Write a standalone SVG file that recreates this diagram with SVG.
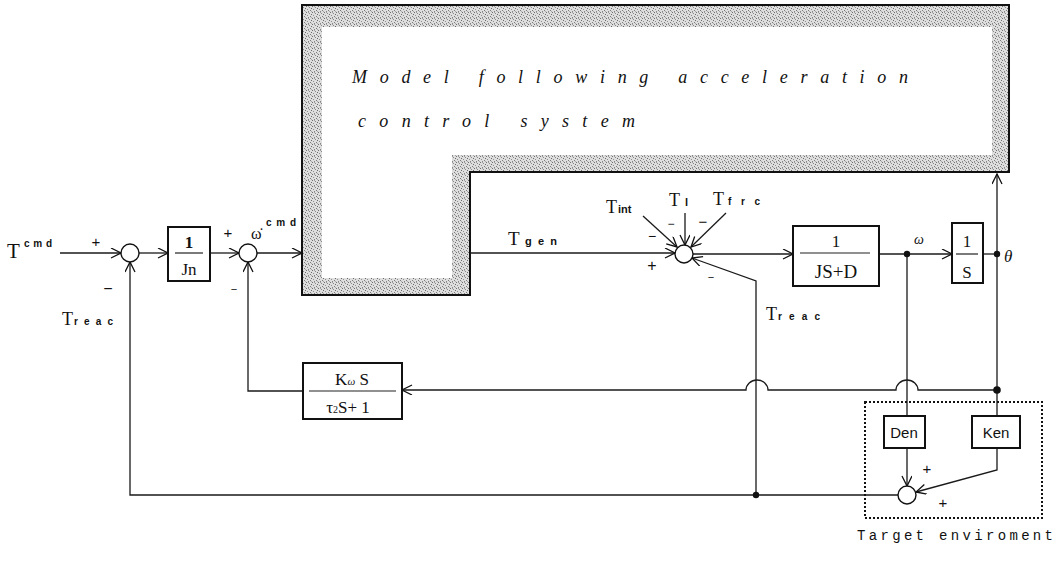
<svg xmlns="http://www.w3.org/2000/svg" width="1061" height="561" viewBox="0 0 1061 561">
<style>
.ln{fill:none;stroke:#1a1a1a;stroke-width:1.3}
.bx{fill:#fff;stroke:#111;stroke-width:2}
.sj{fill:#fff;stroke:#111;stroke-width:1.4}
.fr{stroke:#222;stroke-width:1.2}
.serif{font-family:"Liberation Serif","DejaVu Serif",serif;fill:#111}
.sans{font-family:"Liberation Sans","DejaVu Sans",sans-serif;fill:#111}
.mono{font-family:"Liberation Mono","DejaVu Sans Mono",monospace;fill:#111}
.dot{fill:#111}
</style>
<defs>
<marker id="ar" markerUnits="userSpaceOnUse" markerWidth="14" markerHeight="12" refX="11" refY="5" orient="auto">
<path d="M1,0 L11,5 L1,10" fill="none" stroke="#111" stroke-width="1.3"/>
</marker>
<pattern id="stip" width="6" height="6" patternUnits="userSpaceOnUse">
<rect width="6" height="6" fill="#dedede"/>
<rect x="0" y="0" width="1" height="1" fill="#707070"/>
<rect x="3" y="1" width="1" height="1" fill="#8a8a8a"/>
<rect x="5" y="2" width="1" height="1" fill="#6a6a6a"/>
<rect x="1" y="3" width="1" height="1" fill="#909090"/>
<rect x="4" y="4" width="1" height="1" fill="#7c7c7c"/>
<rect x="2" y="5" width="1" height="1" fill="#858585"/>
<rect x="5" y="5" width="1" height="1" fill="#a8a8a8"/>
<rect x="2" y="0" width="1" height="1" fill="#a0a0a0"/>
</pattern>
</defs>

<g id="mfac">
<path d="M302,5 H1009 V172 H470 V295 H302 Z" fill="url(#stip)" stroke="#111" stroke-width="2"/>
<path d="M322,27 H992 V155 H452 V278 H322 Z" fill="#fff"/>
<text class="serif" x="352" y="83" font-size="18" font-style="italic" textLength="556" lengthAdjust="spacing">Model following acceleration</text>
<text class="serif" x="358" y="127" font-size="18" font-style="italic" textLength="277" lengthAdjust="spacing">control system</text>
</g>

<g id="connectors">
<path class="ln" d="M60,253 H121" marker-end="url(#ar)"/>
<path class="ln" d="M139,253 H168" marker-end="url(#ar)"/>
<path class="ln" d="M210,253 H239" marker-end="url(#ar)"/>
<path class="ln" d="M257,253 H302" marker-end="url(#ar)"/>
<path class="ln" d="M898,495 H130 V262" marker-end="url(#ar)"/>
<path class="ln" d="M303,391 H248 V262" marker-end="url(#ar)"/>
<path class="ln" d="M997,390 H918 A11,10 0 0 0 896,390 H768 A11,10 0 0 0 746,390 H402" marker-end="url(#ar)"/>
<path class="ln" d="M470,253 H675" marker-end="url(#ar)"/>
<path class="ln" d="M643,216 L677,247" marker-end="url(#ar)"/>
<path class="ln" d="M685,213 V245" marker-end="url(#ar)"/>
<path class="ln" d="M726,213 L691,247" marker-end="url(#ar)"/>
<path class="ln" d="M756,495 V281 L692,258" marker-end="url(#ar)"/>
<path class="ln" d="M693,254 H793" marker-end="url(#ar)"/>
<path class="ln" d="M879,254 H952" marker-end="url(#ar)"/>
<path class="ln" d="M983,254 H997"/>
<path class="ln" d="M997,416 V174" marker-end="url(#ar)"/>
<path class="ln" d="M907,254 V416"/>
<path class="ln" d="M907,448 V486" marker-end="url(#ar)"/>
<path class="ln" d="M997,448 V470 L916,492" marker-end="url(#ar)"/>
<circle class="dot" cx="756" cy="495" r="3.2"/>
<circle class="dot" cx="907" cy="254" r="3.2"/>
<circle class="dot" cx="997" cy="254" r="3.2"/>
<circle class="dot" cx="997" cy="390" r="3.8"/>
</g>

<g id="input-labels">
<text class="serif" x="7" y="258" font-size="21">T</text>
<text class="sans" x="24" y="247" font-size="10" font-weight="bold" textLength="28" lengthAdjust="spacing">cmd</text>
<text class="serif" x="62" y="325" font-size="18">T</text>
<text class="sans" x="74" y="325" font-size="10" font-weight="bold" textLength="39" lengthAdjust="spacing">reac</text>
</g>

<g id="sum1">
<circle class="sj" cx="130" cy="253" r="9"/>
<text class="sans" x="96" y="247" font-size="15" text-anchor="middle">+</text>
<text class="sans" x="108" y="294" font-size="16" text-anchor="middle">−</text>
</g>

<g id="block-jn">
<rect class="bx" x="168" y="227" width="42" height="54"/>
<text class="serif" x="189" y="248" font-size="17" font-weight="bold" text-anchor="middle">1</text>
<line class="fr" x1="175" y1="253" x2="203" y2="253"/>
<text class="serif" x="189" y="275" font-size="17" text-anchor="middle">Jn</text>
</g>

<g id="sum2">
<circle class="sj" cx="248" cy="253" r="9"/>
<text class="sans" x="228" y="238" font-size="15" text-anchor="middle">+</text>
<text class="sans" x="234" y="293" font-size="11" text-anchor="middle">−</text>
<text class="serif" x="251" y="239" font-size="16">ω̇</text>
<text class="sans" x="266" y="226" font-size="10" font-weight="bold" textLength="30" lengthAdjust="spacing">cmd</text>
</g>

<g id="block-kw">
<rect class="bx" x="303" y="363" width="99" height="56"/>
<text class="serif" x="352" y="385" font-size="17" text-anchor="middle">K<tspan font-size="11" font-style="italic">ω</tspan> S</text>
<line class="fr" x1="309" y1="391" x2="396" y2="391"/>
<text class="serif" x="348" y="413" font-size="17" text-anchor="middle">τ<tspan font-size="10">2</tspan>S+ 1</text>
</g>

<g id="sum3">
<circle class="sj" cx="684" cy="254" r="9"/>
<text class="serif" x="508" y="245" font-size="19">T</text>
<text class="sans" x="525" y="245" font-size="11" font-weight="bold" textLength="32" lengthAdjust="spacing">gen</text>
<text class="serif" x="606" y="213" font-size="18">T</text>
<text class="sans" x="618" y="213" font-size="11" font-weight="bold">int</text>
<text class="serif" x="669" y="206" font-size="18">T</text>
<text class="sans" x="685" y="206" font-size="11" font-weight="bold">l</text>
<text class="serif" x="713" y="205" font-size="18">T</text>
<text class="sans" x="728" y="205" font-size="10" font-weight="bold" textLength="32" lengthAdjust="spacing">frc</text>
<text class="sans" x="652" y="271" font-size="16" text-anchor="middle">+</text>
<text class="sans" x="652" y="241" font-size="14" text-anchor="middle">−</text>
<text class="sans" x="671" y="228" font-size="12" text-anchor="middle">−</text>
<text class="sans" x="703" y="227" font-size="15" text-anchor="middle">−</text>
<text class="sans" x="711" y="281" font-size="11" text-anchor="middle">−</text>
<text class="serif" x="766" y="320" font-size="18">T</text>
<text class="sans" x="778" y="320" font-size="10" font-weight="bold" textLength="42" lengthAdjust="spacing">reac</text>
</g>

<g id="block-jsd">
<rect class="bx" x="793" y="226" width="86" height="60"/>
<text class="serif" x="836" y="247" font-size="17" text-anchor="middle">1</text>
<line class="fr" x1="800" y1="253" x2="870" y2="253"/>
<text class="serif" x="836" y="278" font-size="19" text-anchor="middle">JS+D</text>
<text class="serif" x="919" y="244" font-size="14" font-style="italic" text-anchor="middle">ω</text>
</g>

<g id="block-s">
<rect class="bx" x="952" y="223" width="31" height="60"/>
<text class="serif" x="967" y="247" font-size="17" text-anchor="middle">1</text>
<line class="fr" x1="956" y1="254" x2="978" y2="254"/>
<text class="serif" x="967" y="278" font-size="17" text-anchor="middle">S</text>
<text class="serif" x="1004" y="262" font-size="17" font-style="italic">θ</text>
</g>

<g id="target-env">
<rect x="865" y="402" width="177" height="116" fill="none" stroke="#111" stroke-width="2" stroke-dasharray="2,2"/>
<rect class="bx" x="884" y="416" width="41" height="32" stroke-width="1.6"/>
<text class="sans" x="904" y="438" font-size="15" text-anchor="middle">Den</text>
<rect class="bx" x="972" y="416" width="48" height="32" stroke-width="1.6"/>
<text class="sans" x="996" y="438" font-size="15" text-anchor="middle">Ken</text>
<circle class="sj" cx="907" cy="495" r="9"/>
<text class="sans" x="927" y="474" font-size="15" text-anchor="middle">+</text>
<text class="sans" x="943" y="508" font-size="15" text-anchor="middle">+</text>
<text class="mono" x="857" y="540" font-size="14" textLength="196" lengthAdjust="spacing">Target enviroment</text>
</g>
</svg>
